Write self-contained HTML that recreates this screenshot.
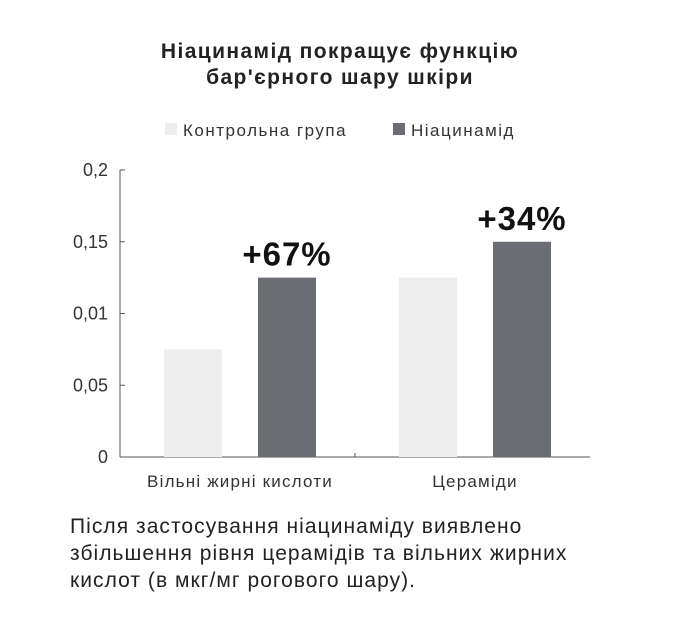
<!DOCTYPE html>
<html><head><meta charset="utf-8"><style>
body{margin:0;width:680px;height:630px;background:#fff;font-family:"Liberation Sans",sans-serif;color:#222;position:relative;overflow:hidden}
.t{position:absolute;left:0;width:680px;text-align:center;font-weight:bold;font-size:21px;letter-spacing:1.4px;line-height:26px;top:39px}
.note{position:absolute;left:70px;top:513px;font-size:21px;letter-spacing:1.05px;line-height:27px;color:#222;white-space:nowrap}
</style></head><body>
<div class="t">Ніацинамід покращує функцію<br>бар'єрного шару шкіри</div>
<svg width="680" height="510" style="position:absolute;left:0;top:0" id="c"></svg>
<div class="note">Після застосування ніацинаміду виявлено<br>збільшення рівня церамідів та вільних жирних<br>кислот (в мкг/мг рогового шару).</div>
<script>
const categories=["Вільні жирні кислоти","Цераміди"];
const control=[0.075,0.125];
const niacinamide=[0.125,0.15];
const labels=["+67%","+34%"];
const ticks=[0,0.05,0.1,0.15,0.2];
const tickLabels=["0","0,05","0,01","0,15","0,2"];
const NS="http://www.w3.org/2000/svg",svg=document.getElementById('c');
const y0=457,y1=170,x0=120,x1=590;
const y=v=>y0-(v/0.2)*(y0-y1);
function mk(t,a,txt){const e=document.createElementNS(NS,t);for(const k in a)e.setAttribute(k,a[k]);if(txt!=null)e.textContent=txt;svg.appendChild(e);return e;}
let e=mk('rect',{x:165,y:123,width:12,height:12,fill:'#ededed'});

e=mk('text',{x:183,y:136,'font-size':17,'letter-spacing':1.5,fill:'#333'},'Контрольна група');

e=mk('rect',{x:393,y:123,width:12,height:12,fill:'#6a6e74'});

e=mk('text',{x:411,y:136,'font-size':17,'letter-spacing':1.5,fill:'#333'},'Ніацинамід');

e=mk('line',{x1:x0,y1:y1,x2:x0,y2:y0,stroke:'#555','stroke-width':1});

e=mk('line',{x1:x0,y1:y0,x2:x1,y2:y0,stroke:'#555','stroke-width':1});

mk('line',{x1:(x0+x1)/2,y1:y0,x2:(x0+x1)/2,y2:y0-4,stroke:'#555'});
ticks.forEach((t,i)=>{
 mk('line',{x1:x0,y1:y(t),x2:x0+5,y2:y(t),stroke:'#555'});
 const l=mk('text',{x:108,y:y(t)+6,'font-size':18,'text-anchor':'end',fill:'#333'},tickLabels[i]);
 
});
const gw=(x1-x0)/2,bw=58;
categories.forEach((c,i)=>{
 const gx=x0+gw*i;
 let r=mk('rect',{x:gx+44,y:y(control[i]),width:bw,height:y0-y(control[i]),fill:'#ededed'});
 
 r=mk('rect',{x:gx+138,y:y(niacinamide[i]),width:bw,height:y0-y(niacinamide[i]),fill:'#6a6e74'});
 
 let t=mk('text',{x:gx+138+bw/2,y:y(niacinamide[i])-12,'font-size':33,'letter-spacing':1,'font-weight':'bold','text-anchor':'middle',fill:'#111'},labels[i]);
 
 t=mk('text',{x:gx+(44+138+bw)/2,y:487,'font-size':17,'letter-spacing':1.2,'text-anchor':'middle',fill:'#333'},c);
 
});
</script>
</body></html>
